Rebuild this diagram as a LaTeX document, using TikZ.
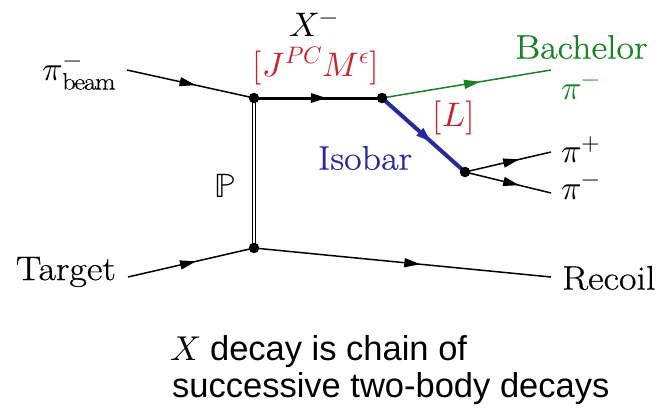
\documentclass[tikz,border=0pt]{standalone}
\usepackage{unicode-math}
\setmainfont{Latin Modern Roman}[FakeStretch=1.12, FakeBold=0.5]
\setmathfont{Latin Modern Math}
\newfontfamily\sansfnt{Liberation Sans}
\usetikzlibrary{arrows.meta,decorations.markings}
\definecolor{xred}{RGB}{200,35,45}
\definecolor{bgreen}{RGB}{25,130,35}
\definecolor{iblue}{RGB}{40,40,160}
\begin{document}
\begin{tikzpicture}[x=1pt,y=-1pt,
  lbl/.style={inner sep=0pt, font=\fontsize{34}{40}\selectfont},
  caption/.style={inner sep=0pt, font=\fontsize{34.5}{40}\selectfont\sansfnt},
  vtx/.style={circle, fill=black, inner sep=0pt, minimum size=10.5pt},
  prop/.style={line width=1.5pt, postaction={decorate},
    decoration={markings, mark=at position #1 with {\arrow{Triangle[length=16pt,width=9pt]}}}},
  prop/.default=0.55]
\useasboundingbox (0,0) rectangle (659,410);
% vertices and ends
\coordinate (V1) at (254,98);
\coordinate (V2) at (382,98);
\coordinate (V3) at (465,172);
\coordinate (V4) at (254,248);
\coordinate (beamS) at (127,70);
\coordinate (bachE) at (551,70);
\coordinate (pipE) at (551,152);
\coordinate (pimE) at (551,193);
\coordinate (tgtS) at (128,277);
\coordinate (recE) at (551,277);
% pomeron
\draw[double, line width=1.2pt, double distance=2.2pt] (V1) -- (V4);
% lines
\draw[prop=0.54] (beamS) -- (V1);
\draw[prop=0.57, line width=3pt] (V1) -- (V2);
\draw[prop=0.58, bgreen] (V2) -- (bachE);
\draw[prop=0.6, iblue, line width=4pt] (V2) -- (V3);
\draw[prop=0.63] (V3) -- (pipE);
\draw[prop=0.63] (V3) -- (pimE);
\draw[prop=0.54] (tgtS) -- (V4);
\draw[prop=0.56] (V4) -- (recE);
% dots
\node[vtx] (d1) at (V1) {};
\node[vtx] (d2) at (V2) {};
\node[vtx] (d3) at (V3) {};
\node[vtx] (d4) at (V4) {};
% labels
\node[lbl, anchor=base east] (beamlbl) at (114,80) {$\pi^-_{\mathrm{beam}}$};
\node[lbl] (xlbl) at (314,25) {$X^-$};
\node[lbl, text=xred] (jlbl) at (316,66) {$[J^{PC}M^{\epsilon}]$};
\node[lbl, text=bgreen, anchor=west] (bachlbl) at (515,47) {Bachelor};
\node[lbl, text=bgreen, anchor=west] (pibach) at (561,90) {$\pi^-$};
\node[lbl, text=xred] (llbl) at (454,118) {$[L]$};
\node[lbl, text=iblue] (isolbl) at (365,158) {Isobar};
\node[lbl, anchor=west] (piplbl) at (561,150) {$\pi^+$};
\node[lbl, anchor=west] (pimlbl) at (561,190) {$\pi^-$};
\node[lbl] (plbl) at (225,186) {$\mathbb{P}$};
\node[lbl, anchor=east] (tgtlbl) at (116,272) {Target};
\node[lbl, anchor=west] (reclbl) at (562,278) {Recoil};
\node[caption, anchor=base west] (cap1) at (170,360) {$X$ decay is chain of};
\node[caption, anchor=base west] (cap2) at (172,397) {successive two-body decays};
\end{tikzpicture}
\end{document}
